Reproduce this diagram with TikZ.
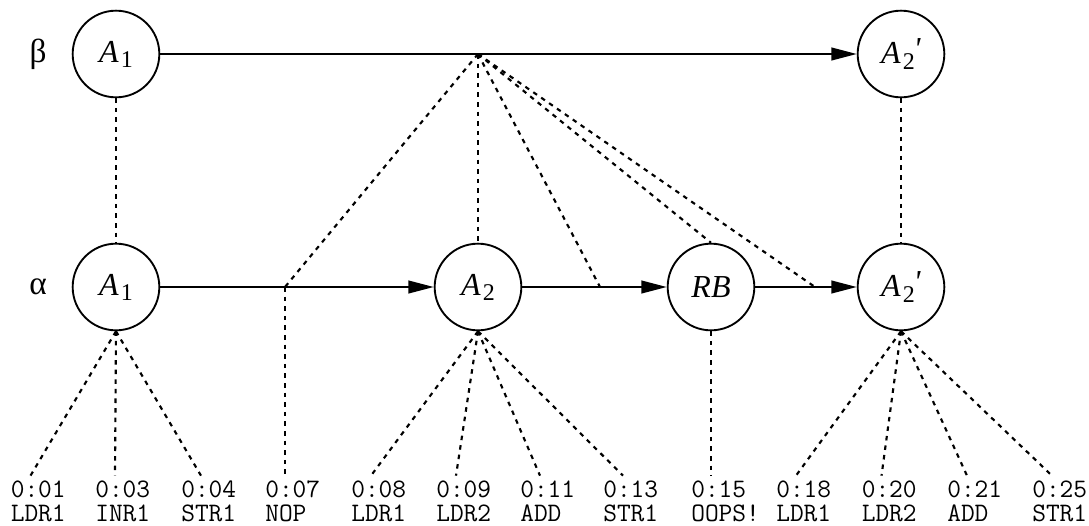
\documentclass[tikz,border=0pt]{standalone}
\usepackage{fontspec}
\setmainfont{Liberation Serif}
\usetikzlibrary{arrows.meta}

% subscripted state names
\newcommand{\stA}[1]{\textit{A}\kern1.5pt\raisebox{-3.8pt}{\fontsize{18}{18}\selectfont #1}}
\newcommand{\stAp}[1]{\textit{A}\kern1.5pt\raisebox{-3.8pt}{\fontsize{18}{18}\selectfont #1}\kern-1pt\raisebox{3pt}{\textit{\textquotesingle}}}

\tikzset{
  state/.style={circle, draw, line width=1.4pt, minimum size=65pt, inner sep=0pt,
                font=\fontsize{24}{28}\selectfont},
  rowlab/.style={font=\fontsize{25}{28}\selectfont, inner sep=0pt},
  flow/.style={line width=1.5pt, -{Triangle[length=19pt,width=9.5pt]}},
  link/.style={line width=1.6pt, dash pattern=on 3.4pt off 3.8pt},
  instr/.style={font=\ttfamily\fontsize{20}{18}\selectfont, align=left,
                inner sep=0pt, anchor=north west},
  tip/.style={xshift=15pt, yshift=4pt}
}

\begin{document}
\begin{tikzpicture}[x=0.75pt, y=-0.75pt]
\useasboundingbox (0,0) rectangle (1089,525);

% row labels
\node[rowlab] (beta)  at (38,54)  {β};
\node[rowlab] (alpha) at (38,287) {α};

% upper row
\node[state] (bA1)  at (116,54) {\stA{1}};
\node[state] (bA2p) at (901,54) {\stAp{2}};

% lower row
\node[state] (aA1)  at (116,287) {\stA{1}};
\node[state] (aA2)  at (478,287) {\stA{2}};
\node[state] (aRB)  at (711,287) {\textit{RB}};
\node[state] (aA2p) at (901,287) {\stAp{2}};

% points on the transition lines
\coordinate (J)   at (478,54);
\coordinate (P07) at (285,287);
\coordinate (P13) at (600,287);
\coordinate (P16) at (815,287);

% transitions
\draw[flow] (bA1) -- (bA2p);
\draw[flow] (aA1) -- (aA2);
\draw[flow] (aA2) -- (aRB);
\draw[flow] (aRB) -- (aA2p);

% correspondence between the rows
\draw[link] (bA1) -- (aA1);
\draw[link] (bA2p) -- (aA2p);
\draw[link] (J) -- (P07);
\draw[link] (J) -- (aA2.north);
\draw[link] (J) -- (P13);
\draw[link] (J) -- (aRB.north);
\draw[link] (J) -- (P16);

% instruction labels
\node[instr] (l01) at (10.5,481)  {0:01\\LDR1};
\node[instr] (l03) at (95,481)    {0:03\\INR1};
\node[instr] (l04) at (181,481)   {0:04\\STR1};
\node[instr] (l07) at (265,481)   {0:07\\NOP};
\node[instr] (l08) at (351,481)   {0:08\\LDR1};
\node[instr] (l09) at (436,481)   {0:09\\LDR2};
\node[instr] (l11) at (520,481)   {0:11\\ADD};
\node[instr] (l13) at (603,481)   {0:13\\STR1};
\node[instr] (l15) at (691,481)   {0:15\\OOPS!};
\node[instr] (l18) at (776,481)   {0:18\\LDR1};
\node[instr] (l20) at (861.5,481) {0:20\\LDR2};
\node[instr] (l21) at (947,481)   {0:21\\ADD};
\node[instr] (l25) at (1032,481)  {0:25\\STR1};

% instructions executed in each state
\draw[link] (aA1.south) -- ([tip]l01.north west);
\draw[link] (aA1.south) -- ([tip]l03.north west);
\draw[link] (aA1.south) -- ([tip]l04.north west);
\draw[link] (P07) -- ([tip]l07.north west);
\draw[link] (aA2.south) -- ([tip]l08.north west);
\draw[link] (aA2.south) -- ([tip]l09.north west);
\draw[link] (aA2.south) -- ([tip]l11.north west);
\draw[link] (aA2.south) -- ([tip]l13.north west);
\draw[link] (aRB.south) -- ([tip]l15.north west);
\draw[link] (aA2p.south) -- ([tip]l18.north west);
\draw[link] (aA2p.south) -- ([tip]l20.north west);
\draw[link] (aA2p.south) -- ([tip]l21.north west);
\draw[link] (aA2p.south) -- ([tip]l25.north west);
\end{tikzpicture}
\end{document}
